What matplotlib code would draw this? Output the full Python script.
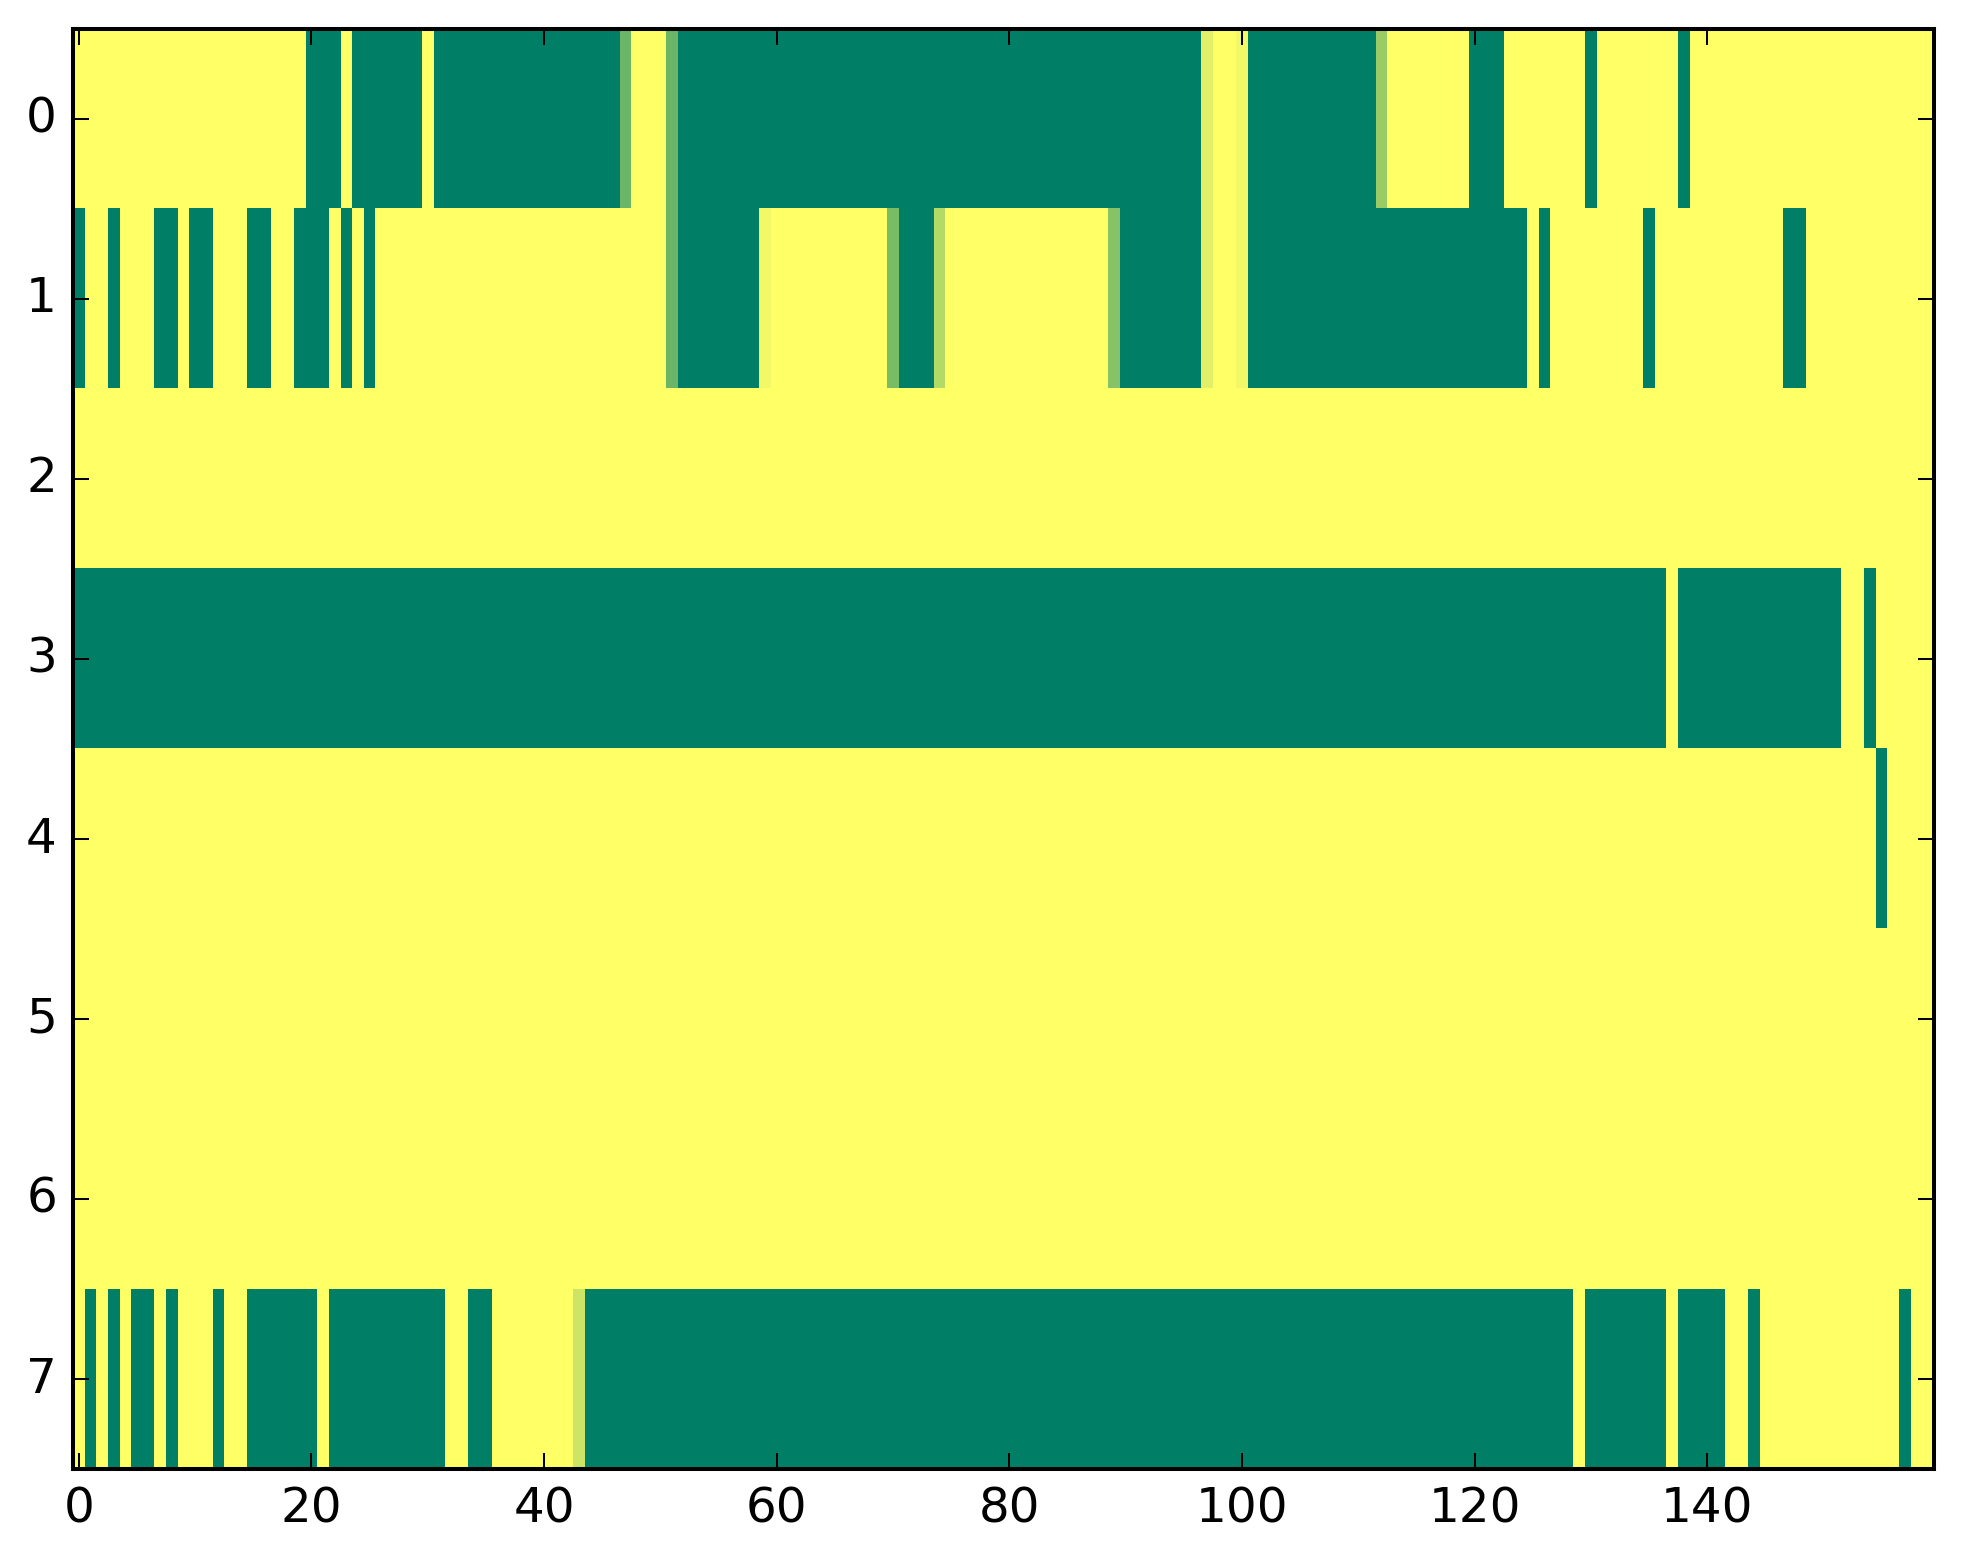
import numpy as np
import matplotlib
matplotlib.use("Agg")
import matplotlib.pyplot as plt

plt.style.use("classic")

# each row written as (value, run length) pairs
row0 = [(1, 20), (0, 3), (1, 1), (0, 6), (1, 1), (0, 16), (0.42, 1), (1, 3), (0.42, 1),
        (0, 45), (0.88, 1), (1, 2), (0.95, 1), (0, 11), (0.6, 1), (1, 7), (0, 3), (1, 7),
        (0, 1), (1, 7), (0, 1), (1, 21)]
row1 = [(0, 1), (1, 2), (0, 1), (1, 3), (0, 2), (1, 1), (0, 2), (1, 3), (0, 2), (1, 2),
        (0, 3), (1, 1), (0, 1), (1, 1), (0, 1), (1, 25), (0.42, 1), (0, 7), (0.95, 1),
        (1, 10), (0.48, 1), (0, 3), (0.7, 1), (1, 14), (0.53, 1), (0, 7), (0.88, 1),
        (1, 2), (0.95, 1), (0, 24), (1, 1), (0, 1), (1, 8), (0, 1), (1, 11), (0, 2), (1, 11)]
row2 = [(1, 160)]
row3 = [(0, 137), (1, 1), (0, 14), (1, 2), (0, 1), (1, 5)]
row4 = [(1, 155), (0, 1), (1, 4)]
row5 = [(1, 160)]
row6 = [(1, 160)]
row7 = [(1, 1), (0, 1), (1, 1), (0, 1), (1, 1), (0, 2), (1, 1), (0, 1), (1, 3), (0, 1),
        (1, 2), (0, 6), (1, 1), (0, 10), (1, 2), (0, 2), (1, 7), (0.8, 1), (0, 85),
        (1, 1), (0, 7), (1, 1), (0, 4), (1, 2), (0, 1), (1, 12), (0, 1), (1, 2)]

rows = [row0, row1, row2, row3, row4, row5, row6, row7]


def expand(runs):
    vals = [v for v, n in runs]
    counts = [n for v, n in runs]
    return np.repeat(vals, counts)


data = np.array([expand(r) for r in rows])

dpi = 290
fig = plt.figure(figsize=(1963 / dpi, 1564 / dpi), dpi=dpi, facecolor="white")
ax = fig.add_axes([0.0372, 0.0607, 0.948, 0.9208])
ax.imshow(data, cmap="summer", vmin=0, vmax=1, aspect="auto", interpolation="nearest")
ax.set_xticks(np.arange(0, 141, 20))
ax.set_yticks(np.arange(0, 8))
ax.set_xlim(-0.5, data.shape[1] - 0.5)
ax.set_ylim(data.shape[0] - 0.5, -0.5)

fig.savefig("out.png", dpi=dpi, facecolor="white")
